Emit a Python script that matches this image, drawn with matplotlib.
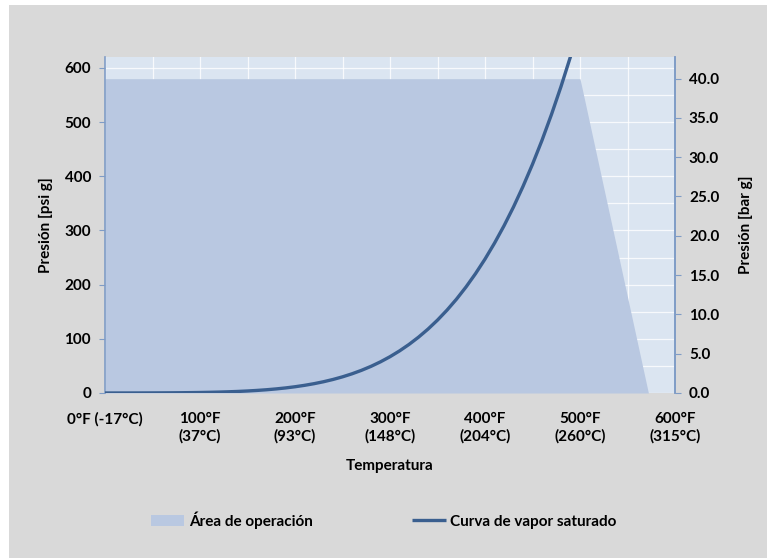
import matplotlib
matplotlib.use("Agg")
import matplotlib.pyplot as plt
from matplotlib.patches import Rectangle
from matplotlib.ticker import MultipleLocator

plt.rcParams['font.family'] = ['Lato', 'DejaVu Sans']
plt.rcParams['font.weight'] = 'bold'

# operating envelope (°F, psi g)
area_temp = [0, 500, 572]
area_psi = [580, 580, 0]

# saturated steam curve (°F, psi)
curve_temp = [0, 10, 20, 30, 40, 50, 60, 70, 80, 90, 100, 110, 120, 130, 140,
              150, 160, 170, 180, 190, 200, 210, 220, 230, 240, 250, 260, 270,
              280, 290, 300, 310, 320, 330, 340, 350, 360, 370, 380, 390, 400,
              410, 420, 430, 440, 450, 460, 470, 480, 490, 500]
curve_psi = [0.02, 0.03, 0.05, 0.08, 0.12, 0.18, 0.26, 0.36, 0.51, 0.70, 0.95,
             1.28, 1.70, 2.23, 2.89, 3.72, 4.75, 6.00, 7.52, 9.34, 11.53,
             14.13, 17.19, 20.78, 24.97, 29.82, 35.42, 41.85, 49.18, 57.53,
             66.98, 77.64, 89.60, 103.0, 117.9, 134.5, 152.9, 173.2, 195.6,
             220.2, 247.1, 276.5, 308.5, 343.3, 381.2, 422.1, 466.3, 514.1,
             565.5, 620.8, 680.0]

xticks = [0, 100, 200, 300, 400, 500, 600]
xlabels = ['0°F (-17°C)', '100°F\n(37°C)', '200°F\n(93°C)', '300°F\n(148°C)',
           '400°F\n(204°C)', '500°F\n(260°C)', '600°F\n(315°C)']
bar_ticks = [0, 5, 10, 15, 20, 25, 30, 35, 40]

PSI_PER_BAR = 14.5038
spine_col = '#7f9cc6'
fs = 11

fig = plt.figure(figsize=(7.67, 5.58), dpi=100, facecolor='white')
fig.patches.append(Rectangle((9 / 767, 0), 1, 1 - 5 / 558, transform=fig.transFigure,
                             facecolor='#d9d9d9', edgecolor='none', zorder=-10))

ax = fig.add_axes([105 / 767, 1 - 393 / 558, 570 / 767, 336 / 558])
ax.set_facecolor('#dbe5f1')

area = ax.fill_between(area_temp, area_psi, 0, color='#b9c8e1', lw=0, zorder=2,
                       label='Área de operación')
line, = ax.plot(curve_temp, curve_psi, color='#3a5f8f', lw=2.4, zorder=3,
                solid_capstyle='butt', solid_joinstyle='round',
                label='Curva de vapor saturado')

ax.set_xlim(0, 600)
ax.set_ylim(0, 620)
ax.set_xticks(xticks)
ax.set_xticklabels(xlabels, fontsize=fs, fontweight='bold')
ax.set_yticks(range(0, 700, 100))
ax.tick_params(axis='y', labelsize=fs, length=4, color=spine_col, pad=6)
ax.tick_params(axis='x', length=0, pad=14)
ax.xaxis.set_minor_locator(MultipleLocator(50))
ax.yaxis.set_minor_locator(MultipleLocator(50))
ax.tick_params(which='minor', length=0)
ax.grid(True, which='both', color='white', lw=0.9, alpha=0.8, zorder=1)
ax.set_axisbelow(True)

for s in ['top', 'bottom']:
    ax.spines[s].set_visible(False)
ax.spines['left'].set_color(spine_col)
ax.spines['right'].set_color(spine_col)
ax.spines['left'].set_linewidth(1.2)
ax.spines['right'].set_linewidth(1.2)

ax.set_xlabel('Temperatura', fontsize=fs, fontweight='bold', labelpad=11)
ax.set_ylabel('Presión [psi g]', fontsize=fs, fontweight='bold', labelpad=8)

ax2 = ax.twinx()
ax2.set_ylim(0, 620 / PSI_PER_BAR)
ax2.set_yticks(bar_ticks)
ax2.set_yticklabels([f'{v:.1f}' for v in bar_ticks])
ax2.tick_params(axis='y', labelsize=fs, length=4, color=spine_col, pad=6)
for s in ['top', 'bottom', 'left']:
    ax2.spines[s].set_visible(False)
ax2.spines['right'].set_color(spine_col)
ax2.spines['right'].set_linewidth(1.2)
ax2.set_ylabel('Presión [bar g]', fontsize=fs, fontweight='bold', labelpad=14)

fig.legend([area, line], ['Área de operación', 'Curva de vapor saturado'],
           loc='center', bbox_to_anchor=(0.5, 1 - 520 / 558), ncol=2,
           frameon=False, handlelength=2.2, handletextpad=0.3,
           columnspacing=6.5, prop={'weight': 'bold', 'size': fs})

fig.savefig('out.png', dpi=100, facecolor=fig.get_facecolor())
